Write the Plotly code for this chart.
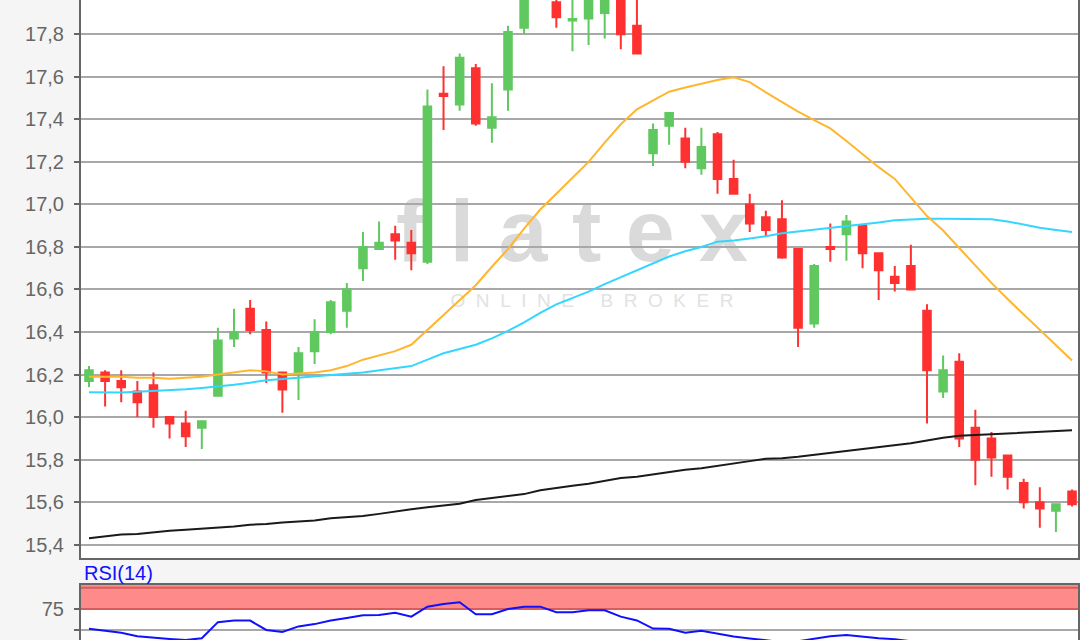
import plotly.graph_objects as go

# ---- data ----
opens  = [16.17, 16.21, 16.17, 16.12, 16.15, 16.00, 15.97, 15.95, 16.10, 16.37,
          16.51, 16.41, 16.21, 16.21, 16.31, 16.40, 16.50, 16.70, 16.79, 16.86,
          16.82, 16.73, 17.52, 17.47, 17.64, 17.36, 17.54, 17.83, 18.00, 17.95,
          17.865, 17.874, 17.90, 17.99, 17.84, 17.24, 17.37, 17.31, 17.17, 17.33,
          17.12, 17.00, 16.94, 16.93, 16.79, 16.44, 16.80, 16.86, 16.90, 16.77,
          16.66, 16.71, 16.50, 16.12, 16.26, 15.95, 15.90, 15.82, 15.69, 15.60,
          15.56, 15.65]
highs  = [16.24, 16.22, 16.22, 16.17, 16.21, 16.00, 16.03, 15.98, 16.42, 16.51,
          16.55, 16.45, 16.21, 16.33, 16.46, 16.55, 16.63, 16.87, 16.92, 16.90,
          16.88, 17.54, 17.65, 17.71, 17.66, 17.57, 17.84, 18.05, 18.15, 17.99,
          18.00, 18.00, 18.02, 18.02, 18.00, 17.38, 17.43, 17.36, 17.36, 17.34,
          17.21, 17.05, 16.97, 17.02, 16.79, 16.72, 16.91, 16.95, 16.90, 16.77,
          16.71, 16.81, 16.53, 16.29, 16.30, 16.035, 15.93, 15.82, 15.71, 15.67,
          15.59, 15.66]
lows   = [16.14, 16.05, 16.07, 16.00, 15.95, 15.90, 15.86, 15.85, 16.10, 16.33,
          16.39, 16.16, 16.02, 16.08, 16.25, 16.39, 16.42, 16.64, 16.79, 16.74,
          16.69, 16.72, 17.35, 17.44, 17.37, 17.29, 17.44, 17.80, 17.98, 17.83,
          17.72, 17.75, 17.78, 17.73, 17.71, 17.18, 17.28, 17.17, 17.14, 17.05,
          17.05, 16.87, 16.85, 16.745, 16.33, 16.42, 16.73, 16.735, 16.70, 16.55,
          16.59, 16.60, 15.97, 16.09, 15.86, 15.68, 15.72, 15.66, 15.57, 15.48,
          15.46, 15.58]
closes = [16.22, 16.17, 16.14, 16.07, 16.00, 15.97, 15.91, 15.98, 16.36, 16.40,
          16.41, 16.21, 16.13, 16.30, 16.40, 16.54, 16.60, 16.80, 16.82, 16.83,
          16.77, 17.46, 17.51, 17.69, 17.38, 17.41, 17.81, 18.00, 18.10, 17.88,
          17.872, 17.98, 17.99, 17.80, 17.71, 17.35, 17.43, 17.20, 17.27, 17.12,
          17.05, 16.91, 16.88, 16.75, 16.42, 16.71, 16.79, 16.92, 16.77, 16.69,
          16.63, 16.60, 16.22, 16.22, 15.90, 15.80, 15.81, 15.72, 15.60, 15.57,
          15.59, 15.59]
sma20  = [16.19, 16.19, 16.19, 16.185, 16.185, 16.18, 16.185, 16.19, 16.20, 16.21,
          16.22, 16.215, 16.20, 16.205, 16.21, 16.22, 16.24, 16.27, 16.29, 16.31,
          16.34, 16.41, 16.48, 16.55, 16.62, 16.707, 16.79, 16.886, 16.976, 17.05,
          17.125, 17.20, 17.29, 17.377, 17.447, 17.488, 17.53, 17.55, 17.567, 17.585,
          17.598, 17.575, 17.527, 17.482, 17.436, 17.396, 17.357, 17.298, 17.235, 17.175,
          17.12, 17.03, 16.945, 16.877, 16.795, 16.713, 16.631, 16.555, 16.483, 16.41,
          16.338, 16.266]
sma50  = [16.117, 16.115, 16.116, 16.119, 16.122, 16.127, 16.131, 16.137, 16.143, 16.152,
          16.162, 16.173, 16.179, 16.186, 16.193, 16.20, 16.204, 16.21, 16.22, 16.23,
          16.24, 16.27, 16.30, 16.32, 16.34, 16.37, 16.405, 16.445, 16.49, 16.53,
          16.56, 16.59, 16.625, 16.657, 16.69, 16.72, 16.755, 16.78, 16.80, 16.825,
          16.83, 16.84, 16.85, 16.864, 16.872, 16.88, 16.89, 16.897, 16.905, 16.915,
          16.925, 16.93, 16.932, 16.932, 16.932, 16.932, 16.93, 16.92, 16.905, 16.89,
          16.88, 16.87]
sma200 = [15.43, 15.44, 15.448, 15.45, 15.458, 15.466, 15.47, 15.475, 15.479, 15.486,
          15.494, 15.497, 15.505, 15.509, 15.514, 15.525, 15.53, 15.535, 15.545, 15.557,
          15.567, 15.576, 15.584, 15.593, 15.61, 15.62, 15.629, 15.638, 15.656, 15.665,
          15.677, 15.687, 15.70, 15.714, 15.72, 15.731, 15.742, 15.752, 15.76, 15.772,
          15.782, 15.793, 15.804, 15.807, 15.814, 15.823, 15.832, 15.84, 15.85, 15.858,
          15.868, 15.877, 15.89, 15.903, 15.912, 15.916, 15.919, 15.922, 15.926, 15.932,
          15.937, 15.938]
rsi14  = [51.8, 49.5, 47.0, 43.0, 41.0, 39.8, 38.5, 40.5, 59.5, 61.3,
          61.3, 50.3, 48.0, 54.5, 57.2, 61.5, 64.5, 67.5, 68.0, 70.5,
          66.0, 77.7, 80.9, 82.9, 68.8, 68.8, 75.0, 77.7, 77.7, 71.1,
          71.1, 73.5, 73.5, 66.0, 61.5, 52.0, 51.8, 47.0, 49.5, 46.0,
          42.5, 40.3, 38.0, 36.0, 37.0, 40.0, 43.0, 44.4, 42.5, 40.5,
          39.5, 37.0, 30.0, 33.0, 27.0, 24.0, 23.0, 21.0, 19.0, 18.0,
          20.0, 19.0]
price_ticks = [15.4, 15.6, 15.8, 16.0, 16.2, 16.4, 16.6, 16.8, 17.0, 17.2, 17.4, 17.6, 17.8]
rsi_ticks = [50, 75]
rsi_tick_text = ["", "75"]

x = list(range(len(opens)))
x_range = [-0.496, 61.37]

GREEN = "#5fc85f"
RED = "#ff3030"
FRAME = "#666666"
GRID = "#a8a8a8"
FONT = "Liberation Sans, Arial, sans-serif"

fig = go.Figure()

fig.add_trace(go.Candlestick(
    x=x, open=opens, high=highs, low=lows, close=closes,
    increasing=dict(line=dict(color=GREEN, width=2), fillcolor=GREEN),
    decreasing=dict(line=dict(color=RED, width=2), fillcolor=RED),
    whiskerwidth=0, xaxis="x", yaxis="y", hoverinfo="skip",
))
fig.add_trace(go.Scatter(x=x, y=sma200, mode="lines",
                         line=dict(color="#1a1a1a", width=2), xaxis="x", yaxis="y"))
fig.add_trace(go.Scatter(x=x, y=sma50, mode="lines",
                         line=dict(color="#33d6ff", width=2), xaxis="x", yaxis="y"))
fig.add_trace(go.Scatter(x=x, y=sma20, mode="lines",
                         line=dict(color="#ffb62e", width=2), xaxis="x", yaxis="y"))
fig.add_trace(go.Scatter(x=x, y=rsi14, mode="lines",
                         line=dict(color="#1010ff", width=2), xaxis="x2", yaxis="y2"))

W, H, L, R = 1080, 640, 81, 2
main_bottom_px = 557.7
rsi_top_px = 584.5

def px_x(p):
    return (p - L) / (W - L - R)

def px_y(p):
    return 1 - p / H

axis_common = dict(showline=True, linecolor=FRAME, linewidth=2, zeroline=False)

fig.update_layout(
    width=W, height=H,
    margin=dict(l=L, r=R, t=0, b=0, pad=0),
    paper_bgcolor="#f5f5f5", plot_bgcolor="#ffffff",
    showlegend=False, separators=",.", boxgap=0.33,
    font=dict(family=FONT, size=20, color=FRAME),
    xaxis=dict(domain=[0, 1], range=x_range, anchor="y",
               showticklabels=False, ticks="", showgrid=False,
               rangeslider=dict(visible=False), **axis_common),
    xaxis2=dict(domain=[0, 1], matches="x", anchor="y2", side="top",
                showticklabels=False, ticks="", showgrid=False, **axis_common),
    yaxis=dict(domain=[px_y(main_bottom_px), 1], range=[15.339, 17.961],
               tickvals=price_ticks, tickformat=".1f",
               ticks="outside", ticklen=5, tickwidth=2, tickcolor=FRAME,
               ticklabelstandoff=6,
               showgrid=True, gridcolor=GRID, gridwidth=2, mirror=True,
               tickfont=dict(size=20, color=FRAME, family=FONT), **axis_common),
    yaxis2=dict(domain=[0, px_y(rsi_top_px)], range=[38.5, 103.8],
                tickvals=rsi_ticks, ticktext=rsi_tick_text,
                ticks="outside", ticklen=5, tickwidth=2, tickcolor=FRAME,
                ticklabelstandoff=6,
                showgrid=True, gridcolor=GRID, gridwidth=2, mirror=True,
                tickfont=dict(size=20, color=FRAME, family=FONT), **axis_common),
)

# RSI overbought band (above grid, below the RSI line)
fig.add_shape(type="rect", xref="x2", yref="y2", x0=x_range[0], x1=x_range[1],
              y0=75, y1=103.8, fillcolor="#ff8a8a", line=dict(width=0), layer="between")
for lvl in (75, 100):
    fig.add_shape(type="line", xref="x2", yref="y2", x0=x_range[0], x1=x_range[1],
                  y0=lvl, y1=lvl, line=dict(color="#d85c5c", width=2), layer="between")

# watermark (behind grid and marks)
NB = "\u00a0"
fig.add_shape(type="rect", xref="paper", yref="paper",
              x0=px_x(572) - 0.01, x1=px_x(572) + 0.01,
              y0=px_y(222) - 0.01, y1=px_y(222) + 0.01,
              line=dict(width=0), fillcolor="rgba(0,0,0,0)", layer="below",
              label=dict(text=NB.join("flatex"), textposition="middle center",
                         font=dict(family=FONT, size=88, color="#dadada", weight="bold")))
fig.add_shape(type="rect", xref="paper", yref="paper",
              x0=px_x(592) - 0.01, x1=px_x(592) + 0.01,
              y0=px_y(298) - 0.01, y1=px_y(298) + 0.01,
              line=dict(width=0), fillcolor="rgba(0,0,0,0)", layer="below",
              label=dict(text=(NB * 2).join("ONLINE") + NB * 5 + (NB * 2).join("BROKER"),
                         textposition="middle center",
                         font=dict(family=FONT, size=19, color="#e2e2e2")))

fig.add_annotation(text="RSI(14)", xref="paper", yref="paper",
                   x=px_x(82), y=px_y(573), xanchor="left", yanchor="middle",
                   showarrow=False, font=dict(family=FONT, size=20, color="#1010ff"))
fig.add_annotation(text="18,0", xref="paper", yref="y", x=0, y=18.0,
                   xanchor="right", yanchor="middle", xshift=-13,
                   showarrow=False, font=dict(family=FONT, size=20, color=FRAME))

fig.write_html(
    "out.html",
    config={"displayModeBar": False},
    post_script="document.body.style.margin='0';document.body.style.padding='0';"
                "document.body.style.overflow='hidden';",
)
